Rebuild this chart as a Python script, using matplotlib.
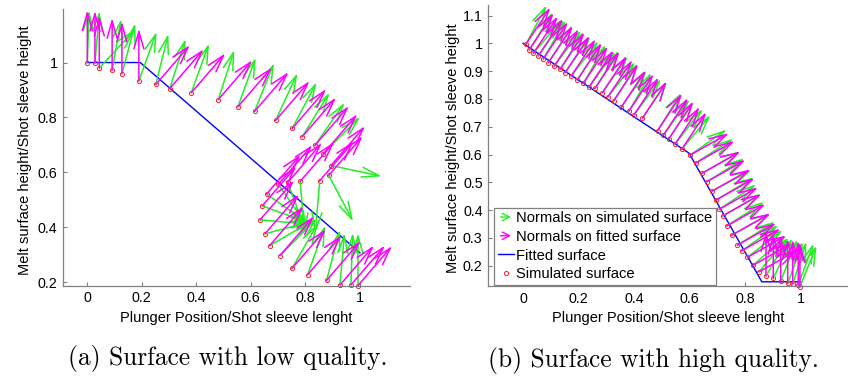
import numpy as np
import matplotlib.pyplot as plt
from matplotlib.patches import FancyArrowPatch
from matplotlib.legend_handler import HandlerBase
from matplotlib.lines import Line2D
from matplotlib.ticker import FuncFormatter

plt.rcParams['font.family'] = ['Liberation Sans', 'DejaVu Sans']

GREEN = '#22ee22'
MAGENTA = '#ff00ff'

#### DATA (a) low quality
a_sim_x = [0.001, 0.029, 0.045, 0.092, 0.128, 0.190, 0.252, 0.303, 0.382, 0.481, 0.553, 0.614,
           0.691, 0.752, 0.788, 0.835, 0.866, 0.894, 0.886, 0.853, 0.781, 0.736, 0.701, 0.658,
           0.642, 0.634, 0.652, 0.669, 0.707, 0.751, 0.808, 0.878, 0.927, 0.967, 0.993]
a_sim_y = [1.000, 0.998, 0.980, 0.972, 0.959, 0.933, 0.920, 0.905, 0.890, 0.865, 0.839, 0.822,
           0.789, 0.760, 0.729, 0.698, 0.668, 0.625, 0.589, 0.570, 0.567, 0.564, 0.556, 0.521,
           0.478, 0.427, 0.376, 0.333, 0.297, 0.250, 0.227, 0.207, 0.190, 0.190, 0.188]
# normal directions (deg)
a_sim_ang = [88, 85, 47, 80, 75, 70, 76, 72, 70, 72, 70, 68, 65, 62, 58, 55, 45, -12, -62, -95,
             -85, -70, -55, -35, -20, -5, 15, 30, 45, 60, 70, 75, 85, 88, 90]
a_fit_ang = [90, 90, 90, 90, 90, 90, 49, 49, 49, 49, 49, 49, 49, 49, 49, 49, 49, 49, 49, 49,
             49, 49, 49, 49, 49, 49, 49, 49, 49, 49, 49, 49, 49, 49, 49]
a_fit_x = [0.0, 0.195, 1.0]
a_fit_y = [1.0, 1.0, 0.307]

#### DATA (b) high quality
b_sim_x = [0.010, 0.022, 0.037, 0.055, 0.073, 0.091, 0.112, 0.133, 0.151, 0.173, 0.195, 0.217,
           0.237, 0.259, 0.285, 0.305, 0.326, 0.353, 0.381, 0.400, 0.429, 0.484, 0.505, 0.525,
           0.547, 0.571, 0.601, 0.622, 0.643, 0.661, 0.679, 0.694, 0.706, 0.718, 0.733, 0.751,
           0.771, 0.787, 0.807, 0.828, 0.849, 0.874, 0.900, 0.927, 0.952, 0.970, 0.990, 0.996]
b_sim_y = [0.996, 0.976, 0.964, 0.955, 0.944, 0.930, 0.918, 0.906, 0.894, 0.882, 0.868, 0.856,
           0.842, 0.838, 0.822, 0.807, 0.793, 0.770, 0.756, 0.744, 0.730, 0.686, 0.670, 0.657,
           0.638, 0.619, 0.598, 0.570, 0.532, 0.502, 0.468, 0.436, 0.403, 0.379, 0.343, 0.310,
           0.274, 0.254, 0.230, 0.202, 0.178, 0.163, 0.154, 0.146, 0.136, 0.134, 0.130, 0.124]
b_sim_ang = [62, 58, 50, 55, 60, 57, 53, 58, 55, 52, 57, 60, 54, 58, 55, 52, 57, 55, 60, 53,
             56, 58, 54, 57, 52, 50, 35, 33, 30, 32, 28, 31, 34, 30, 33, 29, 32, 35, 38, 42,
             50, 60, 65, 68, 70, 72, 70, 68]
b_fit_ang = [56.5] * 26 + [29.5] * 15 + [90] * 7
b_fit_x = [0.0, 0.597, 0.859, 1.0]
b_fit_y = [1.0, 0.605, 0.142, 0.142]


def draw_normals(ax, x, y, ang, L, color):
    for xi, yi, a in zip(x, y, ang):
        t = np.deg2rad(a)
        ax.annotate('', xy=(xi + L * np.cos(t), yi + L * np.sin(t)), xytext=(xi, yi),
                    arrowprops=dict(arrowstyle='->,head_length=1.25,head_width=0.36',
                                    color=color, lw=1.1, shrinkA=0, shrinkB=0))


class ArrowHandler(HandlerBase):
    def create_artists(self, legend, orig_handle, xdescent, ydescent, width, height, fontsize, trans):
        y = height / 2 - ydescent
        p = FancyArrowPatch((-xdescent, y), (width - xdescent, y),
                            arrowstyle='->,head_length=0.5,head_width=0.25',
                            mutation_scale=fontsize, color=orig_handle.get_color(), lw=1.0,
                            transform=trans)
        return [p]


def style_axes(ax):
    for s in ['top', 'right']:
        ax.spines[s].set_visible(False)
    for s in ['left', 'bottom']:
        ax.spines[s].set_color('#808080')
        ax.spines[s].set_linewidth(0.9)
    ax.tick_params(direction='in', length=3, color='#808080', labelsize=10.3, pad=4)
    fmt = FuncFormatter(lambda v, p: '%g' % round(v, 3))
    ax.xaxis.set_major_formatter(fmt)
    ax.yaxis.set_major_formatter(fmt)
    ax.set_xticks([0, 0.2, 0.4, 0.6, 0.8, 1])


fig = plt.figure(figsize=(8.48, 3.79), dpi=100)

#%% (a)
ax1 = fig.add_axes([0.0743, 0.2467, 0.409, 0.7296])
draw_normals(ax1, a_sim_x, a_sim_y, a_sim_ang, 0.19, GREEN)
draw_normals(ax1, a_sim_x, a_sim_y, a_fit_ang, 0.19, MAGENTA)
ax1.plot(a_fit_x, a_fit_y, color='#0000ff', lw=1)
ax1.plot(a_sim_x, a_sim_y, ls='none', marker='o', ms=3, mfc='none', mec='#ff2020', mew=0.7,
         clip_on=False)
ax1.set_xlim(-0.088, 1.183)
ax1.set_ylim(0.188, 1.195)
style_axes(ax1)
ax1.set_yticks([0.2, 0.4, 0.6, 0.8, 1])
ax1.set_xlabel('Plunger Position/Shot sleeve lenght', fontsize=10.5)
ax1.set_ylabel('Melt surface height/Shot sleeve height', fontsize=10.5)
ax1.xaxis.set_label_coords(0.4986, -0.092)
ax1.yaxis.set_label_coords(-0.089, 0.49)

#%% (b)
ax2 = fig.add_axes([0.5758, 0.2454, 0.4226, 0.7414])
draw_normals(ax2, b_sim_x, b_sim_y, b_sim_ang, 0.16, GREEN)
draw_normals(ax2, b_sim_x, b_sim_y, b_fit_ang, 0.16, MAGENTA)
ax2.plot(b_fit_x, b_fit_y, color='#0000ff', lw=1)
ax2.plot(b_sim_x, b_sim_y, ls='none', marker='o', ms=3, mfc='none', mec='#ff2020', mew=0.7,
         clip_on=False)
ax2.set_xlim(-0.125, 1.164)
ax2.set_ylim(0.127, 1.138)
style_axes(ax2)
ax2.set_yticks([0.2, 0.3, 0.4, 0.5, 0.6, 0.7, 0.8, 0.9, 1, 1.1])
ax2.set_xlabel('Plunger Position/Shot sleeve lenght', fontsize=10.5)
ax2.set_ylabel('Melt surface height/Shot sleeve height', fontsize=10.5)
ax2.xaxis.set_label_coords(0.501, -0.089)
ax2.yaxis.set_label_coords(-0.079, 0.49)

h_sim = Line2D([], [], color=GREEN)
h_fitn = Line2D([], [], color=MAGENTA)
h_line = Line2D([], [], color='#0000ff', lw=1)
h_pts = Line2D([], [], ls='none', marker='o', ms=3, mfc='none', mec='#ff2020', mew=0.7)
leg = ax2.legend([h_sim, h_fitn, h_line, h_pts],
                 ['Normals on simulated surface', 'Normals on fitted surface',
                  'Fitted surface', 'Simulated surface'],
                 handler_map={h_sim: ArrowHandler(), h_fitn: ArrowHandler()},
                 loc='lower left', bbox_to_anchor=(494 / 848, 1 - 285 / 379),
                 bbox_transform=fig.transFigure, borderaxespad=0, fontsize=10.6,
                 handlelength=1.1, handletextpad=0.12, labelspacing=0.32, borderpad=0.25,
                 fancybox=False, framealpha=1)
leg.get_frame().set_edgecolor('#808080')
leg.get_frame().set_linewidth(0.9)

fig.text(228 / 848, 1 - 358 / 379, '(a) Surface with low quality.', family='cmr10',
         fontsize=18.3, ha='center', va='center')
fig.text(653 / 848, 1 - 360 / 379, '(b) Surface with high quality.', family='cmr10',
         fontsize=18.3, ha='center', va='center')

plt.savefig('out.png', dpi=100)
